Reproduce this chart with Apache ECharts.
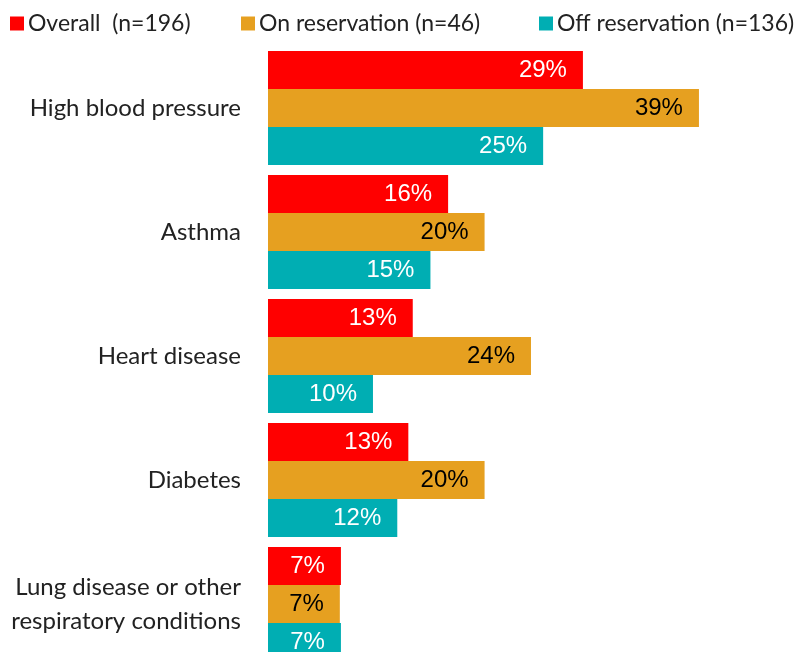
<!DOCTYPE html>
<html><head><meta charset="utf-8">
<script src="https://cdn.jsdelivr.net/npm/echarts@6/dist/echarts.min.js"></script>
<style>html,body{margin:0;padding:0;background:#fff}#c{width:803px;height:652px}</style>
</head><body><div id="c"></div>
<script>
const categories = ["High blood pressure", "Asthma", "Heart disease", "Diabetes", "Lung disease or other\nrespiratory conditions"];
const seriesNames = ["Overall  (n=196)", "On reservation (n=46)", "Off reservation (n=136)"];
const overall = [28.5, 16.3, 13.1, 12.7, 6.6];
const onReservation = [39.0, 19.6, 23.8, 19.6, 6.5];
const offReservation = [24.9, 14.7, 9.5, 11.7, 6.6];
const colors = ["#FF0000", "#E6A020", "#00AEB3"];
const labelColors = ["#FFFFFF", "#000000", "#FFFFFF"];
const values = [overall, onReservation, offReservation];

const chart = echarts.init(document.getElementById('c'));
const legendLefts = [5, 236, 534];
chart.setOption({
  animation: false,
  legend: seriesNames.map((n, i) => ({
    data: [n], left: legendLefts[i], top: 7, icon: 'rect', itemWidth: 14, itemHeight: 14, itemGap: 6,
    textStyle: {fontFamily: 'Lato', fontSize: 23, color: '#222', padding: [0,0,0,-1]}
  })),
  grid: {left: 268, top: 46, width: 442, height: 620, outerBoundsMode: 'none', containLabel: false},
  xAxis: {type: 'value', min: 0, max: 40, show: false},
  yAxis: {type: 'category', data: categories, inverse: true,
    axisLine: {show: false}, axisTick: {show: false},
    axisLabel: {fontFamily: 'Lato', fontSize: 24, color: '#222', margin: 27, lineHeight: 34, align: 'right'}},
  series: seriesNames.map((n, i) => ({
    name: n, type: 'bar', data: values[i], barGap: '0%', barCategoryGap: '8%',
    itemStyle: {color: colors[i]},
    label: {show: true, position: 'insideRight', distance: 16, color: labelColors[i], fontFamily: 'Liberation Sans', fontSize: 24,
      formatter: p => Math.round(p.value) + '%'}
  }))
});
</script></body></html>
